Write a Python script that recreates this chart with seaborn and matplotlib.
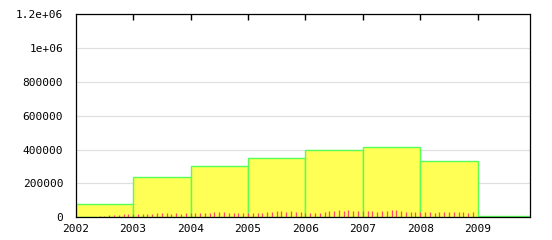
import numpy as np
import pandas as pd
import matplotlib
matplotlib.use("Agg")
import matplotlib.pyplot as plt
import seaborn as sns
from matplotlib.ticker import FixedLocator, FixedFormatter

# ---- data ----
years = [2002, 2003, 2004, 2005, 2006, 2007, 2008, 2009]
yearly_counts = [77000, 236000, 301000, 348000, 395000, 413000, 331000, 5000]

# monthly counts, starting June 2002 (month index 5 from Jan 2002) through Dec 2008
first_month_index = 5
monthly_counts = [
    6000, 8000, 14000, 14000, 16000, 20000, 20000,                                   # 2002 Jun-Dec
    20000, 20000, 20000, 20000, 20000, 24000, 24000, 24000, 20000, 24000, 20000, 24000,  # 2003
    24000, 24000, 24000, 24000, 24000, 30000, 30000, 30000, 24000, 24000, 24000, 24000,  # 2004
    24000, 24000, 24000, 24000, 30000, 30000, 35000, 35000, 30000, 35000, 30000, 30000,  # 2005
    24000, 24000, 24000, 24000, 30000, 35000, 35000, 41000, 35000, 41000, 35000, 35000,  # 2006
    35000, 35000, 35000, 30000, 35000, 35000, 41000, 41000, 35000, 30000, 30000, 30000,  # 2007
    30000, 30000, 30000, 24000, 30000, 30000, 30000, 30000, 30000, 30000, 24000, 30000,  # 2008
]

y_ticks = [0, 200000, 400000, 600000, 800000, 1000000, 1200000]
y_tick_labels = ["0", "200000", "400000", "600000", "800000", "1e+06", "1.2e+06"]
x_tick_labels = ["2002", "2003", "2004", "2005", "2006", "2007", "2008", "2009"]

# ---- plot ----
sns.set_style("white")
plt.rcParams["font.family"] = ["DejaVu Sans Mono", "DejaVu Sans"]

fig = plt.figure(figsize=(5.52, 2.40), dpi=100)
ax = fig.add_axes([0.1371, 0.0946, 0.8236, 0.8471])

df_year = pd.DataFrame({"year": years, "count": yearly_counts})
sns.histplot(data=df_year, x="year", weights="count",
             bins=list(range(years[0], years[-1] + 2)),
             color="#ffff55", alpha=1.0, edgecolor="#55ff55",
             linewidth=1.0, ax=ax, zorder=2)

month_pos = [years[0] + (first_month_index + i) / 12.0 for i in range(len(monthly_counts))]
ax.vlines(month_pos, 0, monthly_counts, colors="#ff4a6a", linewidth=0.9, zorder=3)

ax.set_xlim(2002, 2009 + 11 / 12)
ax.set_ylim(0, 1200000)

ax.xaxis.set_major_locator(FixedLocator(years))
ax.xaxis.set_major_formatter(FixedFormatter(x_tick_labels))
ax.yaxis.set_major_locator(FixedLocator(y_ticks))
ax.yaxis.set_major_formatter(FixedFormatter(y_tick_labels))
ax.set_xlabel("")
ax.set_ylabel("")

ax.grid(axis="y", color="#e0e0e0", linewidth=0.9)
ax.grid(axis="x", visible=False)
ax.set_axisbelow(True)

for s in ax.spines.values():
    s.set_visible(True)
    s.set_color("black")
    s.set_linewidth(0.9)
    s.set_zorder(5)

ax.tick_params(axis="x", which="major", bottom=False, top=False,
               labelbottom=True, length=0, labelsize=8, pad=5, labelcolor="black")
ax.tick_params(axis="y", which="major", left=False, right=False,
               length=0, labelsize=8, pad=9, labelcolor="black")

# short inward tick marks hanging from the top spine at each year
y_top = y_ticks[-1]
ax.vlines(years[1:], y_top * 0.97, y_top, colors="black", linewidth=1.0, zorder=6)

fig.savefig("out.png", dpi=100)
